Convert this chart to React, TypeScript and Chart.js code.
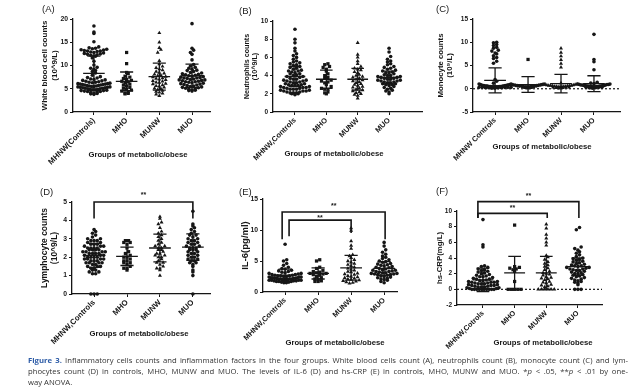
import React, { useEffect, useRef } from "react";
import { Chart, registerables } from "chart.js";

Chart.register(...registerables);

// ---------------- category labels ----------------
const GROUPS_A = ["MHNW(Controls)", "MHO", "MUNW", "MUO"];
const GROUPS_B = ["MHNW,Controls", "MHO", "MUNW", "MUO"];
const GROUPS_C = ["MHNW Controls", "MHO", "MUNW", "MUO"];
const GROUPS_D = ["MHNW,Controls", "MHO", "MUNW", "MUO"];
const GROUPS_E = ["MHNW,Controls", "MHO", "MUNW", "MUO"];
const GROUPS_F = ["MHNW,Cotrols", "MHO", "MUNW", "MUO"];

// ---------------- (A) white blood cells ----------------
const WBC_MHNW = [18.5, 17.2, 16.9, 15.1, 14.0, 13.8, 13.7, 13.6, 13.5, 13.4, 13.3, 13.2, 13.1, 13.1, 13.0, 12.9, 12.8, 12.7, 12.6, 12.5, 12.4, 12.3, 12.2, 12.1, 12.0, 11.6, 10.9, 10.1, 9.6, 9.4, 9.2, 8.9, 8.7, 8.4, 7.9, 7.6, 7.4, 7.3, 7.1, 7.0, 6.9, 6.8, 6.7, 6.6, 6.5, 6.4, 6.4, 6.3, 6.2, 6.1, 6.1, 6.0, 6.0, 5.9, 5.9, 5.8, 5.8, 5.7, 5.7, 5.6, 5.6, 5.5, 5.5, 5.4, 5.4, 5.3, 5.3, 5.2, 5.2, 5.1, 5.1, 5.0, 5.0, 4.9, 4.9, 4.8, 4.8, 4.7, 4.6, 4.6, 4.5, 4.4, 4.4, 4.3, 4.2, 4.1, 4.0, 3.9, 3.8];
const WBC_MHO = [12.8, 10.4, 8.5, 8.3, 7.7, 7.5, 7.2, 7.0, 6.8, 6.6, 6.5, 6.3, 6.0, 5.8, 5.6, 5.3, 5.1, 4.9, 4.7, 4.5, 4.3, 4.1, 4.0, 3.9];
const WBC_MUNW = [17.0, 15.0, 13.8, 13.4, 12.8, 11.0, 10.3, 9.8, 9.5, 9.2, 9.0, 8.7, 8.5, 8.3, 8.1, 7.9, 7.8, 7.6, 7.5, 7.3, 7.2, 7.0, 6.9, 6.7, 6.6, 6.4, 6.3, 6.1, 6.0, 5.8, 5.6, 5.5, 5.3, 5.1, 5.0, 4.8, 4.6, 4.4, 4.2, 4.0, 3.8, 3.5];
const WBC_MUO = [19.0, 13.7, 13.3, 12.8, 12.4, 11.2, 10.2, 9.9, 9.6, 9.4, 9.2, 9.0, 8.9, 8.7, 8.5, 8.4, 8.2, 8.1, 8.0, 7.9, 7.8, 7.7, 7.6, 7.5, 7.4, 7.3, 7.3, 7.2, 7.1, 7.0, 6.9, 6.9, 6.8, 6.7, 6.6, 6.5, 6.5, 6.4, 6.3, 6.2, 6.1, 6.0, 5.9, 5.8, 5.7, 5.6, 5.5, 5.4, 5.3, 5.2, 5.1, 5.0, 4.9, 4.8, 4.7, 4.6, 4.5];
const WBC_MEAN = [8.3, 6.6, 7.6, 7.8];
const WBC_SD = [3.7, 2.0, 2.9, 2.5];
const WBC_TICKS = [0, 5, 10, 15, 20];

// ---------------- (B) neutrophils ----------------
const NEU_MHNW = [9.1, 8.0, 7.6, 7.0, 6.7, 6.4, 6.2, 6.0, 5.8, 5.6, 5.5, 5.4, 5.3, 5.2, 5.1, 5.0, 4.9, 4.8, 4.7, 4.6, 4.5, 4.5, 4.4, 4.3, 4.2, 4.2, 4.1, 4.0, 3.9, 3.9, 3.8, 3.7, 3.6, 3.6, 3.5, 3.5, 3.4, 3.4, 3.3, 3.3, 3.2, 3.2, 3.1, 3.1, 3.0, 3.0, 2.9, 2.9, 2.9, 2.8, 2.8, 2.7, 2.7, 2.7, 2.6, 2.6, 2.5, 2.5, 2.5, 2.4, 2.4, 2.3, 2.3, 2.3, 2.2, 2.2, 2.1, 2.1, 2.1, 2.0, 2.0, 1.9];
const NEU_MHO = [5.3, 5.2, 5.0, 4.9, 4.7, 4.5, 4.2, 4.0, 3.8, 3.7, 3.5, 3.4, 3.3, 3.2, 3.0, 2.8, 2.6, 2.5, 2.5, 2.2, 2.1, 2.0];
const NEU_MUNW = [7.6, 6.3, 6.0, 5.6, 5.3, 5.0, 4.8, 4.7, 4.6, 4.4, 4.3, 4.1, 4.0, 3.9, 3.8, 3.7, 3.6, 3.5, 3.4, 3.3, 3.2, 3.1, 3.0, 2.9, 2.8, 2.7, 2.6, 2.5, 2.4, 2.3, 2.2, 2.1, 2.0, 1.9, 1.8, 1.5];
const NEU_MUO = [7.0, 6.6, 6.1, 5.8, 5.6, 5.5, 5.3, 5.2, 5.0, 4.9, 4.8, 4.7, 4.6, 4.5, 4.4, 4.3, 4.3, 4.2, 4.1, 4.0, 4.0, 3.9, 3.9, 3.8, 3.8, 3.7, 3.7, 3.6, 3.6, 3.5, 3.5, 3.4, 3.4, 3.3, 3.3, 3.2, 3.2, 3.1, 3.1, 3.0, 3.0, 2.9, 2.8, 2.7, 2.6, 2.5, 2.4, 2.3, 2.2, 2.0];
const NEU_MEAN = [3.9, 3.6, 3.6, 3.8];
const NEU_SD = [1.1, 1.0, 1.2, 0.7];
const NEU_TICKS = [0, 2, 4, 6, 8, 10];

// ---------------- (C) monocytes ----------------
const MONO_MHNW = [10.0, 9.9, 9.5, 9.3, 8.9, 8.7, 8.3, 8.1, 7.7, 7.5, 7.1, 6.7, 6.5, 5.9, 5.5, 2.0, 1.6, 1.2, 1.0, 1.0, 0.9, 0.9, 0.8, 0.8, 0.8, 0.7, 0.7, 0.7, 0.7, 0.6, 0.6, 0.6, 0.6, 0.6, 0.5, 0.5, 0.5, 0.5, 0.5, 0.5, 0.4, 0.4, 0.4, 0.4, 0.4, 0.4, 0.3, 0.3, 0.3, 0.3, 0.3, 0.2, 0.2, 0.2, 0.2, 0.1, 0.1];
const MONO_MHO = [6.3, 1.0, 0.9, 0.9, 0.8, 0.8, 0.7, 0.7, 0.6, 0.6, 0.6, 0.5, 0.5, 0.5, 0.4, 0.4, 0.4, 0.3, 0.3, 0.2];
const MONO_MUNW = [8.7, 7.8, 7.0, 6.2, 5.4, 4.6, 1.2, 1.0, 0.9, 0.9, 0.8, 0.8, 0.7, 0.7, 0.7, 0.6, 0.6, 0.6, 0.5, 0.5, 0.5, 0.5, 0.4, 0.4, 0.4, 0.3, 0.3, 0.3, 0.2, 0.2, 0.1];
const MONO_MUO = [11.7, 6.3, 5.8, 4.1, 1.4, 1.2, 1.1, 1.0, 1.0, 0.9, 0.9, 0.9, 0.8, 0.8, 0.8, 0.7, 0.7, 0.7, 0.7, 0.6, 0.6, 0.6, 0.6, 0.5, 0.5, 0.5, 0.5, 0.4, 0.4, 0.4, 0.3, 0.3, 0.3, 0.2, 0.2, 0.1];
const MONO_MEAN = [1.8, 0.9, 1.1, 1.1];
const MONO_SD = [2.7, 1.7, 2.0, 1.7];
const MONO_TICKS = [-5, 0, 5, 10, 15];

// ---------------- (D) lymphocytes ----------------
const LYM_MHNW = [3.5, 3.4, 3.3, 3.2, 3.1, 3.0, 3.0, 2.9, 2.9, 2.9, 2.8, 2.8, 2.7, 2.7, 2.7, 2.6, 2.6, 2.6, 2.5, 2.5, 2.5, 2.5, 2.4, 2.4, 2.4, 2.4, 2.3, 2.3, 2.3, 2.3, 2.2, 2.2, 2.2, 2.2, 2.1, 2.1, 2.1, 2.0, 2.0, 2.0, 2.0, 1.9, 1.9, 1.9, 1.9, 1.8, 1.8, 1.8, 1.7, 1.7, 1.7, 1.7, 1.6, 1.6, 1.5, 1.5, 1.5, 1.4, 1.4, 1.3, 1.3, 1.2, 1.2, 1.1, 1.1, 0, 0, 0];
const LYM_MHO = [2.9, 2.9, 2.8, 2.8, 2.7, 2.5, 2.3, 2.2, 2.1, 2.0, 2.0, 1.9, 1.8, 1.8, 1.7, 1.7, 1.6, 1.5, 1.4, 1.4, 1.3];
const LYM_MUNW = [4.2, 4.1, 3.9, 3.8, 3.6, 3.4, 3.3, 3.2, 3.1, 3.0, 2.9, 2.8, 2.7, 2.6, 2.6, 2.5, 2.5, 2.4, 2.4, 2.3, 2.2, 2.2, 2.1, 2.1, 2.0, 2.0, 1.9, 1.8, 1.7, 1.7, 1.6, 1.5, 1.4, 1.4, 1.3, 1.0];
const LYM_MUO = [4.5, 3.8, 3.7, 3.6, 3.5, 3.4, 3.3, 3.2, 3.2, 3.1, 3.0, 3.0, 2.9, 2.9, 2.8, 2.8, 2.7, 2.7, 2.6, 2.6, 2.5, 2.5, 2.5, 2.4, 2.4, 2.4, 2.3, 2.3, 2.2, 2.2, 2.1, 2.1, 2.0, 2.0, 1.9, 1.9, 1.8, 1.8, 1.7, 1.7, 1.6, 1.5, 1.3, 1.2, 1.0, 0];
const LYM_MEAN = [2.1, 2.05, 2.5, 2.55];
const LYM_SD = [0.65, 0.5, 0.75, 0.72];
const LYM_TICKS = [0, 1, 2, 3, 4, 5];

// ---------------- (E) IL-6 ----------------
const IL6_MHNW = [7.7, 5.2, 5.0, 4.6, 4.3, 4.0, 3.8, 3.7, 3.5, 3.4, 3.3, 3.2, 3.1, 3.0, 3.0, 2.9, 2.8, 2.8, 2.7, 2.7, 2.6, 2.6, 2.6, 2.5, 2.5, 2.4, 2.4, 2.4, 2.3, 2.3, 2.3, 2.2, 2.2, 2.2, 2.2, 2.1, 2.1, 2.1, 2.1, 2.0, 2.0, 2.0, 2.0, 1.9, 1.9, 1.9, 1.9, 1.8, 1.8, 1.8, 1.7, 1.7, 1.7, 1.6, 1.6, 1.5, 1.5];
const IL6_MHO = [5.2, 5.0, 4.0, 3.8, 3.5, 3.3, 3.2, 3.1, 3.0, 3.0, 2.9, 2.8, 2.7, 2.5, 2.3, 2.1, 2.0, 1.8, 1.7, 1.7];
const IL6_MUNW = [10.3, 9.9, 8.2, 7.5, 7.0, 6.0, 5.8, 5.5, 5.2, 5.0, 4.8, 4.6, 4.4, 4.2, 4.0, 3.8, 3.6, 3.5, 3.3, 3.2, 3.0, 2.9, 2.8, 2.6, 2.5, 2.4, 2.3, 2.2, 2.1, 2.0, 1.9, 1.8, 1.7, 1.6, 1.5, 1.4];
const IL6_MUO = [8.0, 7.4, 6.8, 6.4, 6.1, 5.8, 5.6, 5.4, 5.2, 5.0, 4.9, 4.8, 4.6, 4.5, 4.4, 4.3, 4.2, 4.1, 4.0, 3.9, 3.8, 3.7, 3.6, 3.5, 3.5, 3.4, 3.3, 3.3, 3.2, 3.1, 3.1, 3.0, 3.0, 2.9, 2.9, 2.8, 2.8, 2.7, 2.6, 2.5, 2.4, 2.3, 2.2, 2.1, 2.0, 1.9, 1.7, 1.5];
const IL6_MEAN = [2.7, 3.0, 3.9, 3.8];
const IL6_SD = [1.0, 0.9, 2.0, 1.1];
const IL6_TICKS = [0, 5, 10, 15];

// ---------------- (F) hs-CRP ----------------
const CRP_MHNW = [8.9, 5.7, 5.4, 3.0, 2.9, 2.8, 2.6, 2.5, 2.4, 2.3, 2.2, 2.1, 2.0, 1.9, 1.8, 1.7, 1.6, 1.6, 1.5, 1.4, 1.3, 1.3, 1.2, 1.1, 1.1, 1.0, 1.0, 0.9, 0.9, 0.9, 0.8, 0.8, 0.7, 0.7, 0.7, 0.6, 0.6, 0.5, 0.5, 0.5, 0.4, 0.4, 0.3, 0.3, 0.3, 0.2, 0.2, 0.1, 0.1, 0, 0, 0, 0, 0, 0, 0, 0, 0, 0];
const CRP_MHO = [8.2, 2.9, 2.8, 2.7, 2.6, 2.5, 2.3, 1.0, 0, 0, 0, 0, 0];
const CRP_MUNW = [8.3, 7.8, 7.0, 6.5, 6.0, 5.6, 4.3, 4.1, 3.8, 3.5, 3.3, 3.1, 2.9, 2.7, 2.5, 2.3, 2.1, 2.0, 1.9, 1.8, 1.6, 1.5, 1.4, 1.3, 1.2, 1.0, 0.9, 0.8, 0.6, 0.5, 0.4, 0.3, 0, 0, 0, 0, 0, 0];
const CRP_MUO = [7.9, 7.6, 5.4, 5.2, 5.0, 4.8, 4.6, 4.4, 4.2, 4.0, 3.9, 3.8, 3.7, 3.6, 3.5, 3.4, 3.3, 3.2, 3.1, 3.0, 3.0, 2.9, 2.8, 2.8, 2.7, 2.6, 2.6, 2.5, 2.4, 2.4, 2.3, 2.2, 2.1, 2.0, 2.0, 1.9, 1.8, 1.7, 1.6, 1.5, 1.4, 1.3, 1.2, 1.1, 1.0, 0.9, 0.8, 0.6, 0, 0, 0];
const CRP_MEAN = [1.2, 2.1, 2.1, 2.9];
const CRP_SD = [1.5, 2.1, 2.1, 1.1];
const CRP_TICKS = [-2, 0, 2, 4, 6, 8, 10];

// ---------------- significance brackets (data units) ----------------
const SIG_D = [{ from: 0, to: 3, at: 5.0, legFrom: 4.1, legTo: 4.1, label: "**", labelAt: 5.35 }];
const SIG_E = [
  { from: -0.09, to: 3.03, at: 12.9, legFrom: 8.5, legTo: 8.5, label: "**", labelAt: 13.9 },
  { from: 0.12, to: 2.0, at: 11.6, legFrom: 9.0, legTo: 9.5, label: "**", labelAt: 11.95 },
];
const SIG_F = [
  { from: -0.16, to: 3.03, at: 11.2, legFrom: 9.1, legTo: 9.1, label: "**", labelAt: 11.85 },
  { from: -0.16, to: 2.03, at: 9.7, legFrom: 9.1, legTo: 9.1, label: "**", labelAt: 10.4 },
];

// ---------------- styling constants ----------------
const FONT = "'Liberation Sans', Arial, Helvetica, sans-serif";
const INK = "#161616";
const ROW_PX = 3.4;
const STEP_PX = 3.2;
const MAX_HALF_PX = 16;
const MEAN_HALF = 0.33;
const CAP_HALF = 0.2;
const SHAPES = ["circle", "rect", "triangle", "circle"];
const RADII = [1.8, 2.3, 2.3, 1.8];

type Sig = { from: number; to: number; at: number; legFrom: number; legTo: number; label: string; labelAt: number };
type PanelCfg = {
  id: string;
  rect: { left: number; top: number; width: number; height: number };
  area: { l: number; t: number; r: number; b: number };
  groups: string[];
  series: number[][];
  means: number[];
  sds: number[];
  yTicks: number[];
  xMin: number;
  xMax: number;
  yTitle: string | string[];
  yTitleSize: number;
  yTitleLH: number;
  yTitleX: number;
  xTickSize: number;
  yTickSize: number;
  zeroLine: boolean;
  sig: Sig[];
};

const PANELS: PanelCfg[] = [
  {
    id: "A", rect: { left: 0, top: 0, width: 215, height: 170 }, area: { l: 73, t: 19, r: 210, b: 112 },
    groups: GROUPS_A, series: [WBC_MHNW, WBC_MHO, WBC_MUNW, WBC_MUO], means: WBC_MEAN, sds: WBC_SD, yTicks: WBC_TICKS,
    xMin: -0.64, xMax: 3.55, yTitle: ["White blood cell counts", "(10^9/L)"], yTitleSize: 8, yTitleLH: 10, yTitleX: 45,
    xTickSize: 7.8, yTickSize: 6.8, zeroLine: false, sig: [],
  },
  {
    id: "B", rect: { left: 213, top: 0, width: 215, height: 170 }, area: { l: 273, t: 21, r: 422, b: 112 },
    groups: GROUPS_B, series: [NEU_MHNW, NEU_MHO, NEU_MUNW, NEU_MUO], means: NEU_MEAN, sds: NEU_SD, yTicks: NEU_TICKS,
    xMin: -0.7, xMax: 4.05, yTitle: ["Neutrophils counts", "(10^9/L)"], yTitleSize: 7.2, yTitleLH: 8.5, yTitleX: 247,
    xTickSize: 7.5, yTickSize: 6.5, zeroLine: false, sig: [],
  },
  {
    id: "C", rect: { left: 428, top: 0, width: 212, height: 170 }, area: { l: 473, t: 19, r: 620, b: 112 },
    groups: GROUPS_C, series: [MONO_MHNW, MONO_MHO, MONO_MUNW, MONO_MUO], means: MONO_MEAN, sds: MONO_SD, yTicks: MONO_TICKS,
    xMin: -0.67, xMax: 3.79, yTitle: ["Monocyte counts", "(10\u2079/L)"], yTitleSize: 7.8, yTitleLH: 8.5, yTitleX: 441,
    xTickSize: 7.5, yTickSize: 6.5, zeroLine: true, sig: [],
  },
  {
    id: "D", rect: { left: 0, top: 180, width: 215, height: 170 }, area: { l: 72, t: 202, r: 210, b: 294 },
    groups: GROUPS_D, series: [LYM_MHNW, LYM_MHO, LYM_MUNW, LYM_MUO], means: LYM_MEAN, sds: LYM_SD, yTicks: LYM_TICKS,
    xMin: -0.67, xMax: 3.52, yTitle: ["Lymphocyte counts", "(10^9/L)"], yTitleSize: 8.5, yTitleLH: 9.5, yTitleX: 45,
    xTickSize: 7.8, yTickSize: 6.8, zeroLine: false, sig: SIG_D,
  },
  {
    id: "E", rect: { left: 213, top: 180, width: 215, height: 170 }, area: { l: 263, t: 199, r: 397, b: 292 },
    groups: GROUPS_E, series: [IL6_MHNW, IL6_MHO, IL6_MUNW, IL6_MUO], means: IL6_MEAN, sds: IL6_SD, yTicks: IL6_TICKS,
    xMin: -0.67, xMax: 3.39, yTitle: "IL-6(pg/ml)", yTitleSize: 9.5, yTitleLH: 11, yTitleX: 245,
    xTickSize: 7.5, yTickSize: 6.8, zeroLine: false, sig: SIG_E,
  },
  {
    id: "F", rect: { left: 428, top: 180, width: 212, height: 170 }, area: { l: 457, t: 211, r: 602, b: 305 },
    groups: GROUPS_F, series: [CRP_MHNW, CRP_MHO, CRP_MUNW, CRP_MUO], means: CRP_MEAN, sds: CRP_SD, yTicks: CRP_TICKS,
    xMin: -0.82, xMax: 3.76, yTitle: "hs-CRP(mg/L)", yTitleSize: 7.8, yTitleLH: 9, yTitleX: 440,
    xTickSize: 7.3, yTickSize: 6.5, zeroLine: true, sig: SIG_F,
  },
];

const PANEL_LABELS = [
  { text: "(A)", left: 42, top: 4 },
  { text: "(B)", left: 239, top: 5.5 },
  { text: "(C)", left: 436, top: 4 },
  { text: "(D)", left: 40, top: 187 },
  { text: "(E)", left: 239, top: 187 },
  { text: "(F)", left: 436, top: 185.5 },
];
const X_TITLE = "Groups of metabolic/obese";
const X_TITLE_POS = [
  { cx: 138, cy: 154 },
  { cx: 334, cy: 153 },
  { cx: 542, cy: 146 },
  { cx: 139, cy: 333 },
  { cx: 335, cy: 342 },
  { cx: 543, cy: 342 },
];

// deterministic dot-plot arrangement: values sharing a row are spread side by side
function swarm(values: number[], gi: number, rowUnits: number, stepUnits: number, maxHalf: number) {
  const sorted = [...values].sort((a, b) => a - b);
  const rows = new Map<number, number[]>();
  for (const v of sorted) {
    const k = Math.round(v / rowUnits);
    if (!rows.has(k)) rows.set(k, []);
    rows.get(k)!.push(v);
  }
  const pts: { x: number; y: number }[] = [];
  rows.forEach((vs) => {
    const n = vs.length;
    const step = n > 1 ? Math.min(stepUnits, (2 * maxHalf) / (n - 1)) : 0;
    const slots: number[] = [];
    for (let i = 0; i < n; i++) slots.push(i - (n - 1) / 2);
    const order = [...slots].sort((a, b) => Math.abs(a) - Math.abs(b) || a - b);
    vs.forEach((v, i) => pts.push({ x: gi + order[i] * step, y: v }));
  });
  return pts;
}

function makeOverlay(c: PanelCfg) {
  return {
    id: "overlay" + c.id,
    beforeDatasetsDraw(chart: any) {
      if (!c.zeroLine) return;
      const { ctx, chartArea, scales } = chart;
      const yy = scales.y.getPixelForValue(0);
      ctx.save();
      ctx.strokeStyle = INK;
      ctx.lineWidth = 1.2;
      ctx.setLineDash([2, 2]);
      ctx.beginPath();
      ctx.moveTo(chartArea.left, yy);
      ctx.lineTo(chartArea.right, yy);
      ctx.stroke();
      ctx.restore();
    },
    afterDatasetsDraw(chart: any) {
      const { ctx, scales } = chart;
      const x = scales.x;
      const y = scales.y;
      ctx.save();
      ctx.strokeStyle = INK;
      ctx.lineWidth = 1.3;
      c.means.forEach((m, i) => {
        const cx = x.getPixelForValue(i);
        const mw = x.getPixelForValue(i + MEAN_HALF) - cx;
        const cw = x.getPixelForValue(i + CAP_HALF) - cx;
        const ym = y.getPixelForValue(m);
        const yt = y.getPixelForValue(m + c.sds[i]);
        const yb = y.getPixelForValue(m - c.sds[i]);
        ctx.beginPath();
        ctx.moveTo(cx - mw, ym);
        ctx.lineTo(cx + mw, ym);
        ctx.moveTo(cx, yt);
        ctx.lineTo(cx, yb);
        ctx.moveTo(cx - cw, yt);
        ctx.lineTo(cx + cw, yt);
        ctx.moveTo(cx - cw, yb);
        ctx.lineTo(cx + cw, yb);
        ctx.stroke();
      });
      ctx.lineWidth = 1.6;
      c.sig.forEach((b) => {
        const x1 = x.getPixelForValue(b.from);
        const x2 = x.getPixelForValue(b.to);
        const yb = y.getPixelForValue(b.at);
        ctx.beginPath();
        ctx.moveTo(x1, y.getPixelForValue(b.legFrom));
        ctx.lineTo(x1, yb);
        ctx.lineTo(x2, yb);
        ctx.lineTo(x2, y.getPixelForValue(b.legTo));
        ctx.stroke();
        ctx.fillStyle = INK;
        ctx.font = `bold 7px ${FONT}`;
        ctx.textAlign = "center";
        ctx.textBaseline = "middle";
        ctx.fillText(b.label, (x1 + x2) / 2, y.getPixelForValue(b.labelAt));
      });
      ctx.restore();
    },
  };
}

function Panel({ cfg }: { cfg: PanelCfg }) {
  const ref = useRef<HTMLCanvasElement>(null);
  useEffect(() => {
    const c = cfg;
    const yMin = c.yTicks[0];
    const yMax = c.yTicks[c.yTicks.length - 1];
    const plotH = c.area.b - c.area.t;
    const plotW = c.area.r - c.area.l;
    const unitsPerPxX = (c.xMax - c.xMin) / plotW;
    const rowUnits = (ROW_PX * (yMax - yMin)) / plotH;
    const stepUnits = STEP_PX * unitsPerPxX;
    const maxHalf = MAX_HALF_PX * unitsPerPxX;
    const datasets = c.series.map((vals, gi) => ({
      label: c.groups[gi],
      data: swarm(vals, gi, rowUnits, stepUnits, maxHalf),
      pointStyle: SHAPES[gi],
      pointRadius: RADII[gi],
      pointHoverRadius: RADII[gi],
      backgroundColor: INK,
      borderColor: INK,
      borderWidth: 0,
      clip: false,
    }));
    const padTop = c.yTitleX - c.rect.left - c.yTitleLH / 2;
    const chart = new Chart(ref.current as HTMLCanvasElement, {
      type: "scatter",
      data: { datasets: datasets as any },
      options: {
        responsive: false,
        animation: false,
        devicePixelRatio: 1,
        events: [],
        layout: {
          padding: {
            left: 0,
            top: c.area.t - c.rect.top,
            right: c.rect.left + c.rect.width - c.area.r,
            bottom: 0,
          },
        },
        plugins: { legend: { display: false }, tooltip: { enabled: false }, title: { display: false } },
        scales: {
          x: {
            type: "linear",
            min: c.xMin,
            max: c.xMax,
            afterBuildTicks: (ax: any) => {
              ax.ticks = c.groups.map((_, i) => ({ value: i }));
            },
            afterFit: (ax: any) => {
              ax.height = c.rect.top + c.rect.height - c.area.b;
            },
            grid: { display: true, drawOnChartArea: false, drawTicks: true, tickLength: 3, color: INK, lineWidth: 1 },
            border: { display: true, color: INK, width: 1.3 },
            ticks: {
              autoSkip: false,
              minRotation: 45,
              maxRotation: 45,
              padding: 1,
              color: INK,
              font: { family: FONT, size: c.xTickSize, weight: "bold" },
              callback: (v: any) => c.groups[Math.round(Number(v))] ?? "",
            },
          },
          y: {
            type: "linear",
            min: yMin,
            max: yMax,
            afterBuildTicks: (ax: any) => {
              ax.ticks = c.yTicks.map((v) => ({ value: v }));
            },
            afterFit: (ax: any) => {
              ax.width = c.area.l - c.rect.left;
            },
            grid: { display: true, drawOnChartArea: false, drawTicks: true, tickLength: 3, color: INK, lineWidth: 1 },
            border: { display: true, color: INK, width: 1.3 },
            ticks: {
              padding: 2,
              color: INK,
              font: { family: FONT, size: c.yTickSize, weight: "bold" },
            },
            title: {
              display: true,
              text: c.yTitle as any,
              color: INK,
              font: { family: FONT, size: c.yTitleSize, weight: "bold", lineHeight: c.yTitleLH / c.yTitleSize },
              padding: { top: padTop, bottom: 0 },
            },
          },
        },
      } as any,
      plugins: [makeOverlay(c) as any],
    });
    return () => chart.destroy();
  }, [cfg]);
  return (
    <canvas
      ref={ref}
      width={cfg.rect.width}
      height={cfg.rect.height}
      style={{
        position: "absolute",
        left: cfg.rect.left,
        top: cfg.rect.top,
        width: cfg.rect.width,
        height: cfg.rect.height,
      }}
    />
  );
}

const CAPTION_1 =
  " Inflammatory cells counts and inflammation factors in the four groups. White blood cells count (A), neutrophils count (B), monocyte count (C) and lym-";
const CAPTION_2a =
  "phocytes count (D) in controls, MHO, MUNW and MUO. The levels of IL-6 (D) and hs-CRP (E) in controls, MHO, MUNW and MUO. *";
const CAPTION_3 = "way ANOVA.";

export default function App() {
  useEffect(() => {
    document.body.style.margin = "0";
  }, []);
  const justify: React.CSSProperties = { textAlign: "justify", textAlignLast: "justify" as any };
  return (
    <div
      style={{
        position: "absolute",
        left: 0,
        top: 0,
        width: 640,
        height: 389,
        background: "#ffffff",
        overflow: "hidden",
        fontFamily: FONT,
      }}
    >
      {PANELS.map((p) => (
        <Panel key={p.id} cfg={p} />
      ))}
      {PANEL_LABELS.map((l) => (
        <div
          key={l.text}
          style={{ position: "absolute", left: l.left, top: l.top, fontSize: 9.5, lineHeight: "10px", color: "#222" }}
        >
          {l.text}
        </div>
      ))}
      {X_TITLE_POS.map((p, i) => (
        <div
          key={i}
          style={{
            position: "absolute",
            left: p.cx,
            top: p.cy,
            transform: "translate(-50%, -50%)",
            whiteSpace: "nowrap",
            fontSize: 7.7,
            fontWeight: 700,
            color: INK,
            lineHeight: "9px",
          }}
        >
          {X_TITLE}
        </div>
      ))}
      <div
        style={{
          position: "absolute",
          left: 28,
          top: 354.5,
          width: 600,
          fontFamily: "'Open Sans', 'Noto Sans', sans-serif",
          fontSize: 7.7,
          lineHeight: "11px",
          color: "#333",
        }}
      >
        <div style={justify}>
          <span style={{ color: "#2c5ba6", fontWeight: 700 }}>Figure 3.</span>
          {CAPTION_1}
        </div>
        <div style={justify}>
          {CAPTION_2a}
          <i>p</i>
          {" < .05, **"}
          <i>p</i>
          {" < .01 by one-"}
        </div>
        <div>{CAPTION_3}</div>
      </div>
    </div>
  );
}
